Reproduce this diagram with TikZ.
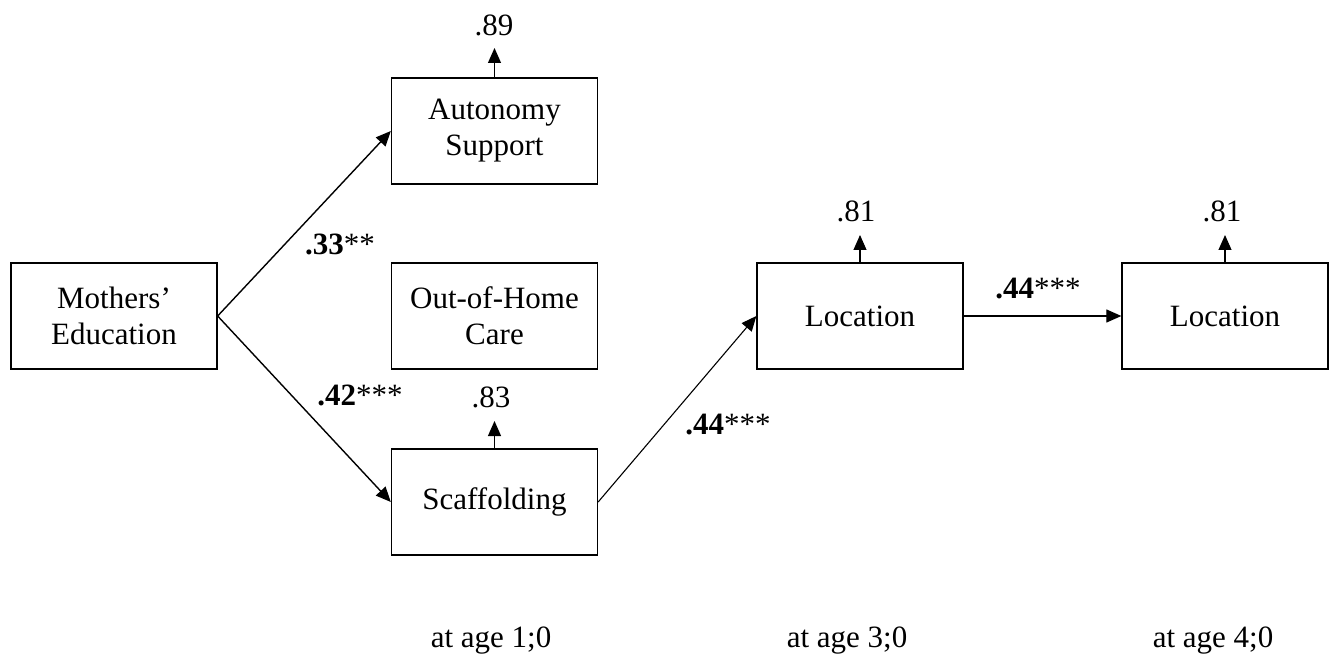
\documentclass[tikz,border=0pt]{standalone}
\usepackage{fontspec}
\setmainfont{Liberation Serif}
\usetikzlibrary{arrows.meta}
\begin{document}
\begin{tikzpicture}[x=1pt,y=-1pt,
  box/.style={draw,line width=1.3pt,minimum width=206pt,minimum height=106pt,inner sep=0pt,align=center,font=\fontsize{31}{36}\selectfont},
  txt/.style={inner sep=0pt,font=\fontsize{31}{36}\selectfont},
  arr/.style={line width=1.4pt,-{Triangle[length=15pt,width=13pt]}},
  arrthin/.style={line width=1.1pt,-{Triangle[length=15pt,width=13pt]}}]
\useasboundingbox (0,0) rectangle (1340,660);
\node[box] (ME) at (114,316) {Mothers’\\Education};
\node[box] (AS) at (494.5,131) {Autonomy\\Support};
\node[box] (OH) at (494.5,316) {Out-of-Home\\Care};
\node[box] (SC) at (494.5,502) {Scaffolding};
\node[box] (L1) at (860,316) {Location};
\node[box] (L2) at (1225,316) {Location};
% residual labels
\node[txt] (eAS) at (494,25) {.89};
\node[txt] (eSC) at (491,397) {.83};
\node[txt] (eL1) at (856,211) {.81};
\node[txt] (eL2) at (1222,211) {.81};
\coordinate (rAS) at (494.5,48);
\coordinate (rSC) at (494.5,421);
\coordinate (rL1) at (860,235);
\coordinate (rL2) at (1225,235);
\draw[arrthin] (AS.north) -- (rAS);
\draw[arrthin] (SC.north) -- (rSC);
\draw[arrthin] (L1.north) -- (rL1);
\draw[arrthin] (L2.north) -- (rL2);
% paths
\draw[arr] (ME.east) -- (AS.west);
\draw[arr] (ME.east) -- (SC.west);
\draw[arrthin] (SC.east) -- (L1.west);
\draw[arrthin] (L1.east) -- (L2.west);
% path labels
\node[txt] (p1) at (340,244) {\textbf{.33}**};
\node[txt] (p2) at (360,395) {\textbf{.42}***};
\node[txt] (p3) at (728,425) {\textbf{.44}***};
\node[txt] (p4) at (1038,289) {\textbf{.44}***};
% ages
\node[txt] (a1) at (491,641) {at age 1;0};
\node[txt] (a2) at (847,641) {at age 3;0};
\node[txt] (a3) at (1213,641) {at age 4;0};
\end{tikzpicture}
\end{document}
